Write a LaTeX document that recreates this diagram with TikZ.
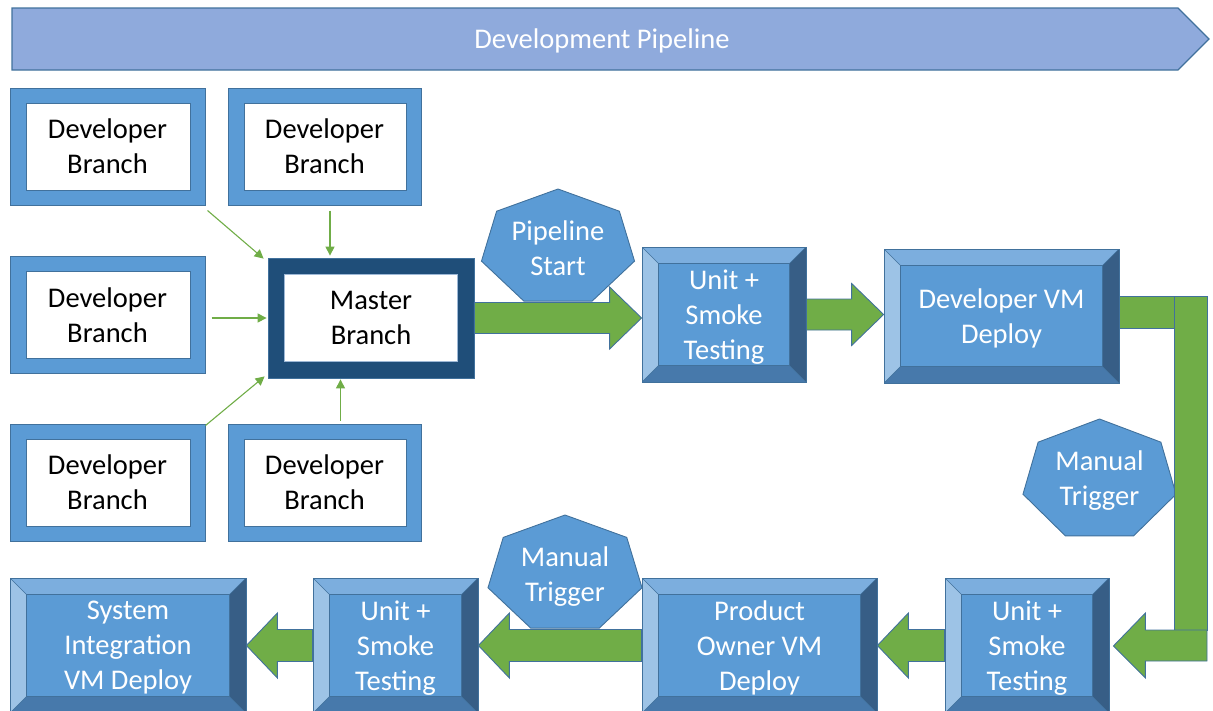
\documentclass[tikz,border=0pt]{standalone}
\usepackage{fontspec}
\setmainfont{Carlito}
\usetikzlibrary{arrows.meta,calc}
\definecolor{bfill}{HTML}{5B9BD5}
\definecolor{bline}{HTML}{41719C}
\definecolor{btop}{HTML}{7CAEDE}
\definecolor{bleft}{HTML}{9DC3E6}
\definecolor{bright}{HTML}{375E86}
\definecolor{bbot}{HTML}{4779AB}
\definecolor{mfill}{HTML}{1F4E79}
\definecolor{gfill}{HTML}{70AD47}
\definecolor{banfill}{HTML}{8FAADC}
\definecolor{wline}{HTML}{9DB8D6}

\tikzset{
  txt/.style={font=\fontsize{28.5}{35}\selectfont, align=center, inner sep=0pt},
  devbox/.style={txt, rectangle, draw=bline, fill=bfill, line width=1pt,
    minimum width=195pt, minimum height=117pt,
    path picture={
      \coordinate (ppNW) at (path picture bounding box.north west);
      \coordinate (ppSE) at (path picture bounding box.south east);
      \draw[bline, fill=white, line width=1pt] ([shift={(16pt,-15pt)}]ppNW) rectangle ([shift={(-15pt,15pt)}]ppSE);}},
  masterbox/.style={txt, rectangle, draw=bline, fill=mfill, line width=0.8pt,
    minimum width=206pt, minimum height=120pt,
    path picture={
      \coordinate (ppNW) at (path picture bounding box.north west);
      \coordinate (ppSE) at (path picture bounding box.south east);
      \draw[wline, fill=white, line width=0.8pt] ([shift={(16.5pt,-16.5pt)}]ppNW) rectangle ([shift={(-16.5pt,16.5pt)}]ppSE);}},
  bevelbox/.style={txt, text=white, text depth=0pt, rectangle, draw=bline, fill=bfill, line width=0.8pt,
    minimum height=135pt,
    path picture={
      \coordinate (ppNW) at (path picture bounding box.north west);
      \coordinate (ppNE) at (path picture bounding box.north east);
      \coordinate (ppSW) at (path picture bounding box.south west);
      \coordinate (ppSE) at (path picture bounding box.south east);
      \coordinate (qNW) at ([shift={(16.5pt,-16.5pt)}]ppNW);
      \coordinate (qNE) at ([shift={(-16.5pt,-16.5pt)}]ppNE);
      \coordinate (qSW) at ([shift={(16.5pt,16.5pt)}]ppSW);
      \coordinate (qSE) at ([shift={(-16.5pt,16.5pt)}]ppSE);
      \fill[btop] (ppNW) -- (ppNE) -- (qNE) -- (qNW) -- cycle;
      \fill[bleft] (ppNW) -- (qNW) -- (qSW) -- (ppSW) -- cycle;
      \fill[bright] (ppNE) -- (qNE) -- (qSE) -- (ppSE) -- cycle;
      \fill[bbot] (ppSW) -- (qSW) -- (qSE) -- (ppSE) -- cycle;
      \draw[bline, line width=0.6pt] (qNW) rectangle (qSE)
        (ppNW) -- (qNW) (ppNE) -- (qNE) (ppSW) -- (qSW) (ppSE) -- (qSE);}},
  hept/.style={fill=bfill, draw=bline, line width=0.9pt},
  garrow/.style={fill=gfill, draw=bline, line width=0.9pt},
  thinarr/.style={draw=gfill, line width=1.1pt, -{Triangle[length=9pt,width=9pt]}},
  wtxt/.style={txt, text=white}
}

\newcommand\hepta[4]{%
  \filldraw[hept] ({#1},{#2-#4}) \foreach \k in {1,...,6}{ -- ({#1+#3*cos(90+\k*360/7)},{#2-#4*sin(90+\k*360/7)})} -- cycle;}

% right-pointing block arrow: #1 start, #2 tip
\newcommand\rarrow[2]{%
  \filldraw[garrow] let \p1=(#1), \p2=(#2) in
    ({\x1},{\y1+15.5pt}) -- ({\x2-32pt},{\y1+15.5pt}) -- ({\x2-32pt},{\y1+31pt}) --
    ({\x2},{\y1}) -- ({\x2-32pt},{\y1-31pt}) -- ({\x2-32pt},{\y1-15.5pt}) -- ({\x1},{\y1-15.5pt}) -- cycle;}
% left-pointing block arrow: #1 start (right end), #2 tip
\newcommand\larrow[2]{%
  \filldraw[garrow] let \p1=(#1), \p2=(#2) in
    ({\x1},{\y1+16pt}) -- ({\x2+31pt},{\y1+16pt}) -- ({\x2+31pt},{\y1+32.5pt}) --
    ({\x2},{\y1}) -- ({\x2+31pt},{\y1-32.5pt}) -- ({\x2+31pt},{\y1-16pt}) -- ({\x1},{\y1-16pt}) -- cycle;}

\begin{document}
\begin{tikzpicture}[x=1pt,y=-1pt]
\useasboundingbox (0,0) rectangle (1213,710);
\clip (0,0) rectangle (1213,710);

% banner
\filldraw[fill=banfill, draw=bline, line width=1.2pt] (12,8) -- (1178,8) -- (1209,39) -- (1178,70) -- (12,70) -- cycle;
\node[wtxt] (banner) at (602,41) {Development Pipeline};

% developer branches
\node[devbox] (d1) at (107.5,146.5) {Developer\\Branch};
\node[devbox, minimum width=193pt] (d2) at (324.5,146.5) {Developer\\Branch};
\node[devbox] (d3) at (107.5,315) {Developer\\Branch};
\node[devbox] (d4) at (107.5,482.5) {Developer\\Branch};
\node[devbox, minimum width=193pt] (d5) at (324.5,482.5) {Developer\\Branch};

% master
\node[masterbox] (m) at (371,318) {Master\\Branch};

% thin arrows
\draw[thinarr] ([shift={(2pt,-5pt)}]d1.south east) -- ([shift={(-4pt,-1pt)}]m.north west);
\draw[thinarr, shorten >=2pt] ([shift={(5.5pt,-5pt)}]d2.south) -- ([xshift=5.5pt]d2.south |- m.north);
\draw[thinarr] ([xshift=6pt]d3.east |- m.west) -- ([xshift=-1pt]m.west);
\draw[thinarr] ([shift={(0pt,-2pt)}]d4.north east) -- ([shift={(-3pt,2pt)}]m.south west);
\draw[thinarr, shorten >=1pt] ([shift={(16pt,3pt)}]d5.north) -- ([xshift=16pt]d5.north |- m.south);

% heptagons
\hepta{558}{248}{78.5}{59}
\node[wtxt] (ps) at (558,248.5) {Pipeline\\Start};
\hepta{1099.5}{480.5}{78.5}{61.5}
\node[wtxt, text depth=0pt] (mt1) at (1099.5,478.5) {Manual\\Trigger};
\hepta{565}{574.5}{79}{59.5}
\node[wtxt, text depth=0pt] (mt2) at (565,574) {Manual\\Trigger};

% bevel boxes
\node[bevelbox, minimum width=164pt] (u1) at (724,314.5) {Unit +\\Smoke\\Testing};
\node[bevelbox, minimum width=235pt, minimum height=134pt] (dvm) at (1001.5,316) {Developer VM\\Deploy};
\node[bevelbox, minimum width=164pt] (u3) at (1027,645.5) {Unit +\\Smoke\\Testing};
\node[bevelbox, minimum width=235pt] (po) at (759.5,645.5) {Product\\Owner VM\\Deploy};
\node[bevelbox, minimum width=165pt] (u2) at (395.5,645.5) {Unit +\\Smoke\\Testing};
\node[bevelbox, minimum width=236pt] (si) at (128,645.5) {System\\Integration\\VM Deploy};

% thick arrows
\rarrow{m.east}{m.east -| u1.west}
\rarrow{u1.east}{u1.east -| dvm.west}
\larrow{u3.west}{po.east}
\larrow{po.west}{u2.east}
\larrow{u2.west}{si.east}

% bent arrow
\coordinate (bA) at (1174,296);
\coordinate (bB) at (1207,630);
\filldraw[garrow] (dvm.east |- bA) rectangle ([yshift=-32pt]bA);
\filldraw[garrow] (bA) rectangle (bB);
\filldraw[garrow] let \p1=(bB), \p2=([xshift=4pt]u3.east) in
  (\p1) -- ({\x2+32pt},{\y1}) -- ({\x2+32pt},{\y1+17pt}) -- ({\x2},{\y1-16pt}) --
  ({\x2+32pt},{\y1-48pt}) -- ({\x2+32pt},{\y1-31pt}) -- ({\x1},{\y1-31pt}) -- cycle;
\end{tikzpicture}
\end{document}
